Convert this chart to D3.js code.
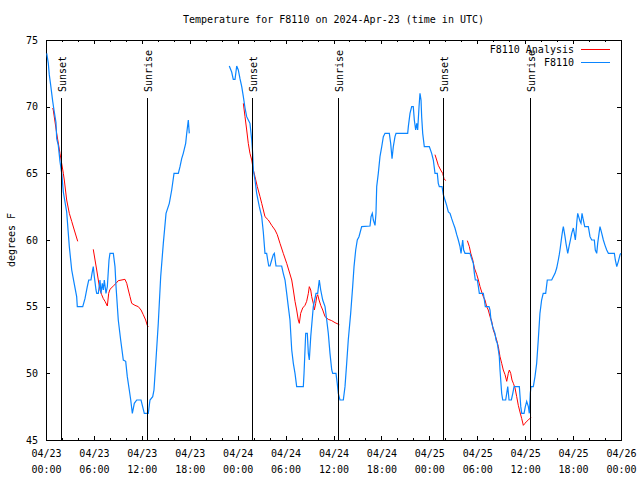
<!DOCTYPE html>
<html><head><meta charset="utf-8">
<script src="https://cdn.jsdelivr.net/npm/d3@7"></script>
<style>
body{margin:0;background:#fff}
text{font-family:"DejaVu Sans Mono","Liberation Mono",monospace;font-size:10px;fill:#000}
</style>
</head><body><svg id="c" width="640" height="480"></svg>
<script>
const title = "Temperature for F8110 on 2024-Apr-23 (time in UTC)";
const yTitle = "degrees F";
const seriesNames = ["F8110 Analysis", "F8110"];
const yTicks = [45, 50, 55, 60, 65, 70, 75];
const startTime = Date.UTC(2024, 3, 23, 0, 0);
const endTime = Date.UTC(2024, 3, 26, 0, 0);

// F8110 observations: hours since 2024-04-23 00:00 UTC, temperature (F); null = gap
const obsHours = [0.09,0.29,0.41,0.59,0.84,1.0,1.25,1.34,1.54,1.75,1.97,2.17,2.59,2.92,3.22,3.51,3.84,3.92,4.6,4.88,5.17,5.35,5.63,5.76,5.92,6.05,6.26,6.35,6.55,6.76,6.89,7.05,7.18,7.3,7.51,7.68,7.89,8.01,8.43,8.64,8.77,9.05,9.35,9.68,9.98,10.18,10.43,10.61,10.81,11.06,11.36,11.9,12.31,12.81,13.02,13.36,13.52,13.77,14.06,14.36,14.69,15.03,15.44,15.74,16.03,16.57,16.78,16.99,17.19,17.49,17.62,17.82,17.94,
 20.0,
 22.95,23.25,23.45,23.67,23.88,24.08,24.29,24.51,24.71,24.92,25.13,25.33,25.54,25.76,25.88,25.96,26.17,26.38,26.71,27.01,27.21,27.42,27.63,27.76,27.89,28.05,28.26,28.46,28.59,28.8,29.51,29.71,29.93,30.14,30.34,30.55,30.77,30.97,31.18,31.39,32.22,32.31,32.52,32.72,32.85,32.97,33.15,33.47,33.81,34.02,34.22,34.4,34.65,34.94,35.15,35.35,35.56,35.78,35.9,36.31,36.47,36.6,36.81,37.23,37.44,37.65,37.85,38.15,38.4,38.57,38.78,38.98,39.19,39.53,40.57,40.7,40.86,40.99,41.2,41.32,41.41,41.61,41.82,42.04,42.24,42.45,42.99,43.16,43.33,43.49,43.7,43.83,45.29,45.37,45.58,45.79,45.99,46.12,46.29,46.42,46.54,46.71,46.83,46.96,47.04,47.17,47.37,48.0,48.29,48.5,48.71,49.0,49.12,49.25,49.59,49.75,49.96,50.17,50.38,50.59,50.8,51.0,51.21,51.43,51.63,51.84,51.97,52.18,52.3,52.47,53.09,53.3,53.51,53.64,53.76,54.01,54.14,54.26,54.76,54.89,55.01,55.47,55.6,55.72,55.93,56.22,56.35,56.51,56.64,56.76,56.85,56.94,57.06,57.19,57.56,57.69,57.82,57.98,58.27,58.45,58.61,59.27,59.45,59.57,59.86,60.02,60.19,60.4,60.52,60.64,60.73,61.02,61.23,61.44,61.64,61.85,62.06,62.26,62.57,62.77,63.32,63.52,63.74,63.95,64.15,64.27,64.36,64.58,64.7,64.78,64.99,65.11,65.33,65.49,65.7,65.83,66.03,66.15,66.28,66.36,66.49,66.58,66.7,66.87,66.99,67.12,67.28,67.46,67.91,68.12,68.33,68.66,68.78,68.96,69.08,69.25,69.37,69.59,69.79,70.0,70.21,70.42,71.17,71.29,71.47,71.67,71.88,71.97];
const obsTemps = [74,73.25,72.4,71.6,70.4,69.75,68.8,67.6,67.1,65.9,65,63.6,62.1,59.5,57.75,56.8,55.75,55,55,55.6,56.5,57,57,57.5,58,57.25,56.25,56,56,57,56,56.75,56.25,57,56,56.5,58.5,59,59,58,56.5,54,52.5,51,50.9,49.75,48.75,48,47,47.75,48,48,47,47,48,48.25,48.75,51,53.75,57.25,59.75,62,62.75,63.75,65,65,65.5,66.1,66.5,67.25,68,69,68,
 null,
 73.05,72.6,72.05,72.05,73.05,72.75,72.1,71.5,70.75,69.9,69.25,69,68.75,67.5,66.5,65.25,64.5,63.5,62.5,61.75,60.6,59,59,58.5,58.05,58.05,58.5,58.9,59,58.05,58.05,57.5,57,56,55,54,51.75,50.75,50,49,49,50,53,53,51.5,51,52.75,55,56,56,57,56.25,55.5,55,54,53,51.5,50.25,50,50,49.25,48.5,48,48,49,50.75,52.5,54.5,56.5,58,59.25,60,60.25,61,61.05,61.75,62,61.5,61.1,62,64,65,66.25,67,67.75,68,68,67.25,66.1,67,67.75,68,68,68.5,69.5,70,70,69,68.25,68.75,68.25,70,71,70.5,69.25,68,67,67,66.5,66,65,65,64.25,64,64,63.4,63,62.6,62.1,62,61.6,61.25,60.9,60.4,60,59.5,59,60,59.25,59,59,58.6,58.25,57.5,57,57,56.5,56,56,55.5,55,55,54.75,54,53.5,53,52.5,52.25,51.75,51.25,50.25,49.5,48.5,48,48,48.5,49,48,48,48.5,49,49,47.5,47,47,47.5,47.9,47.5,47,48.5,49,49,49.75,50.75,52.5,54.5,55.5,56,56,57,57,57.25,57.5,57.9,58.5,58.9,59.25,60.25,60.75,61,60.25,59.75,59,59.5,60.1,60.5,60.9,60.5,60,60.5,61.5,62,61.75,61.4,61.25,62,61.5,61,61,60.25,60,60,59.25,59,59.75,60.5,61,60.5,60,59.6,59.25,59,59,58.5,58,58.4,58.9,59];

// F8110 Analysis: hours, temperature (F); null = gap
const anaHours = [0.84,0.91,1.34,1.75,2.17,2.29,2.59,2.92,3.22,3.54,3.97,
 4.9,
 5.92,6.14,6.35,6.55,6.76,6.97,7.18,7.39,7.68,7.85,8.01,8.43,8.77,9.05,9.89,10.11,10.31,10.52,10.73,11.14,11.56,11.9,12.18,12.48,12.68,12.81,
 18.0,
 24.71,24.92,25.13,25.33,25.54,25.76,25.96,26.17,26.46,26.8,27.01,27.42,27.84,28.26,28.68,28.96,29.3,29.71,30.14,30.47,30.77,30.97,31.18,31.39,31.59,31.72,31.89,32.14,32.43,32.64,32.85,32.97,33.15,33.27,33.47,33.6,33.77,33.9,34.02,34.19,34.4,34.65,34.94,35.35,35.78,36.19,36.73,
 42.0,
 48.71,48.92,49.12,49.42,49.67,49.84,50.05,
 51.5,
 52.76,53.01,53.19,53.44,53.64,53.94,54.14,54.35,54.56,54.76,54.97,55.18,55.38,55.6,55.81,56.01,56.22,56.43,56.64,56.85,57.06,57.26,57.48,57.69,57.89,58.02,58.19,58.35,58.52,58.73,58.94,59.14,59.35,59.57,59.77,59.98,60.19,60.4,60.73];
const anaTemps = [69.9,69.75,68.0,66.5,65,64.5,63,62,61.4,60.75,59.9,
 null,
 59.3,58.5,57.75,57,56.25,55.9,55.6,55.4,55.05,56,56.3,56.55,56.75,56.95,57.05,56.75,56.25,55.75,55.25,55.1,55,54.75,54.4,54,53.6,53.5,
 null,
 70.25,69.25,68.25,67.25,66.5,66,65.25,64.75,64,63.25,62.75,61.75,61.5,61.1,60.75,60.4,59.75,59,58.25,57.6,57,56.25,55.4,54.75,54,53.75,54.5,54.9,55.1,55.4,56,56.5,56.25,55.75,55.25,54.75,55.25,55.75,55.9,55.5,55.1,54.75,54.25,54.05,53.95,53.8,53.65,
 null,
 66.4,66,65.6,65.25,65,64.6,64.45,
 null,
 59.95,59.5,59,58.5,57.9,57.4,57,56.5,56.1,55.75,55.5,55,54.75,54.25,53.9,53.25,52.9,52.5,52,51.25,50.75,50.25,49.9,49.4,50,50.25,50,49.5,49.25,48.9,48.25,47.6,47.1,46.6,46.1,46.25,46.4,46.5,46.7];

const eventNames = ["Sunset", "Sunrise", "Sunset", "Sunrise", "Sunset", "Sunrise"];
const eventHours = [1.82, 12.68, 25.83, 36.6, 49.75, 60.64];

const colors = ["#ff0000", "#0a85ff"];

const svg = d3.select("#c");
const L = 46, R = 621, T = 40, B = 440;
const toDate = h => new Date(startTime + h * 3600e3);

const x = d3.scaleUtc().domain([new Date(startTime), new Date(endTime)]).range([L, R]);
const y = d3.scaleLinear().domain([45, 75]).range([B, T]);

// title
svg.append("text").attr("x", (L + R) / 2).attr("y", 23).attr("text-anchor", "middle").text(title);

// y title
svg.append("text").attr("transform", `translate(15,${(T + B) / 2}) rotate(-90)`)
  .attr("text-anchor", "middle").text(yTitle);

function styleAxis(g) {
  g.select(".domain").remove();
  g.selectAll("line").attr("stroke", "#000").attr("shape-rendering", "crispEdges");
  g.selectAll("text").attr("fill", "#000").style("font-family", null).style("font-size", null)
    .attr("font-family", null).attr("font-size", null);
}

const majorTicks = d3.utcHour.every(6).range(new Date(startTime), new Date(endTime + 1));
const minorTicks = d3.utcHour.every(2).range(new Date(startTime), new Date(endTime + 1)).filter(d => d.getUTCHours() % 6 !== 0);
const fmtDate = d3.utcFormat("%m/%d"), fmtTime = d3.utcFormat("%H:%M");

// bottom minor
svg.append("g").attr("transform", `translate(0,${B})`)
  .call(d3.axisBottom(x).tickValues(minorTicks).tickSize(-2).tickFormat(""))
  .call(styleAxis);
// top minor
svg.append("g").attr("transform", `translate(0,${T})`)
  .call(d3.axisTop(x).tickValues(minorTicks).tickSize(-2).tickFormat(""))
  .call(styleAxis);
// top major
svg.append("g").attr("transform", `translate(0,${T})`)
  .call(d3.axisTop(x).tickValues(majorTicks).tickSize(-4).tickFormat(""))
  .call(styleAxis);
// bottom major with labels
const xg = svg.append("g").attr("transform", `translate(0,${B})`)
  .call(d3.axisBottom(x).tickValues(majorTicks).tickSizeInner(-4).tickSizeOuter(0).tickPadding(0).tickFormat(""))
  .call(styleAxis);
xg.selectAll(".tick").append("text").attr("text-anchor", "middle").attr("y", 17).text(d => fmtDate(d));
xg.selectAll(".tick").append("text").attr("text-anchor", "middle").attr("y", 33).text(d => fmtTime(d));

// left axis
svg.append("g").attr("transform", `translate(${L},0)`)
  .call(d3.axisLeft(y).tickValues(yTicks).tickSizeInner(-4).tickSizeOuter(0).tickPadding(8).tickFormat(d3.format("d")))
  .call(styleAxis);
// right axis ticks
svg.append("g").attr("transform", `translate(${R},0)`)
  .call(d3.axisRight(y).tickValues(yTicks).tickSizeInner(-4).tickSizeOuter(0).tickFormat(""))
  .call(styleAxis);

// frame
svg.append("rect").attr("x", L).attr("y", T).attr("width", R - L).attr("height", B - T)
  .attr("fill", "none").attr("stroke", "#000").attr("shape-rendering", "crispEdges");

// series
const line = d3.line().defined(d => d[1] != null).x(d => x(toDate(d[0]))).y(d => y(d[1]));
const anaData = anaHours.map((h, i) => [h, anaTemps[i]]);
const obsData = obsHours.map((h, i) => [h, obsTemps[i]]);
svg.append("path").datum(anaData).attr("d", line).attr("fill", "none")
  .attr("stroke", colors[0]).attr("stroke-width", 1);
svg.append("path").datum(obsData).attr("d", line).attr("fill", "none")
  .attr("stroke", colors[1]).attr("stroke-width", 1.2);

// events
eventHours.forEach((h, i) => {
  const ex = Math.round(x(toDate(h))) + 0.5;
  svg.append("line").attr("x1", ex).attr("x2", ex).attr("y1", 98).attr("y2", B)
    .attr("stroke", "#000").attr("stroke-width", 1);
  svg.append("text").attr("transform", `translate(${ex + 4},92) rotate(-90)`)
    .attr("text-anchor", "start").text(eventNames[i]);
});

// legend
const legY = [49, 62];
seriesNames.forEach((n, i) => {
  svg.append("text").attr("x", 574).attr("y", legY[i] + 4).attr("text-anchor", "end").text(n);
  svg.append("line").attr("x1", 581).attr("x2", 610).attr("y1", legY[i] + 0.5).attr("y2", legY[i] + 0.5)
    .attr("stroke", colors[i]).attr("stroke-width", 1);
});
</script>
</body></html>
